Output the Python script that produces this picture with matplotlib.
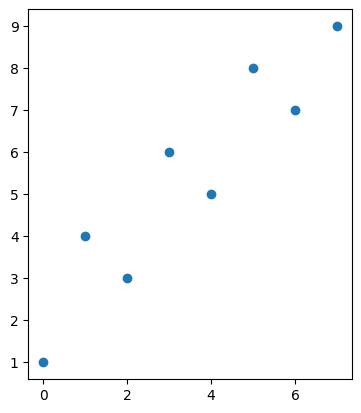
import matplotlib.pyplot as plt

x_vals = [0, 1, 2, 3, 4, 5, 6, 7]
y_vals = [1, 4, 3, 6, 5, 8, 7, 9]

fig = plt.figure(figsize=(3.61, 4.13), dpi=100)
ax = fig.add_axes([0.0784, 0.0828, 0.8958, 0.8949])
ax.scatter(x_vals, y_vals)

fig.savefig('out.png', dpi=100)
